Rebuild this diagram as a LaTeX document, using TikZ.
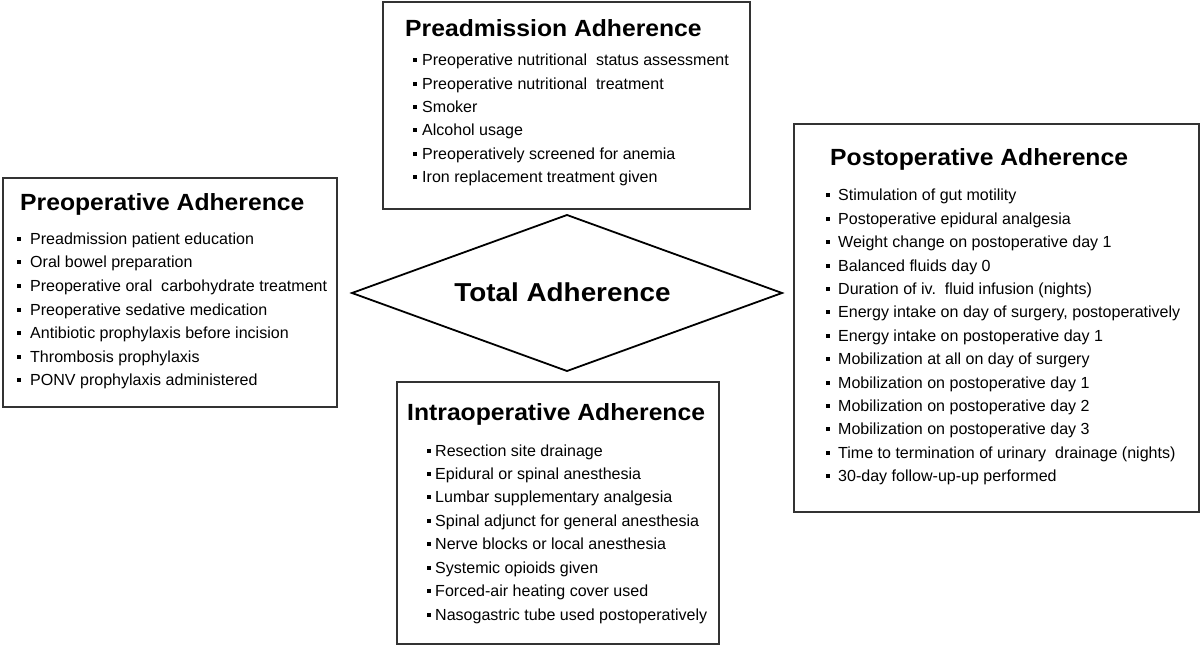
\documentclass[tikz,border=0pt]{standalone}
\usepackage{fontspec}
\setmainfont{Liberation Sans}
\tikzset{
  box/.style={draw=black!80, line width=1.6bp, anchor=north west, inner sep=0, fill=white},
  ttl/.style={anchor=base west, inner sep=0, xscale=1.055, font=\fontsize{23.5}{28}\selectfont\bfseries},
  itm/.style={anchor=base west, inner sep=0, font=\fontsize{16.1}{19}\selectfont},
  bul/.style={fill=black, draw=none, minimum size=4bp, inner sep=0, anchor=center},
  diam/.style={draw=black, line width=1.8bp, line join=miter},
  big/.style={inner sep=0, xscale=1.075, font=\fontsize{26}{31}\selectfont\bfseries}
}
\newcommand\itemlist[6]{%
  \foreach \t [count=\i from 0] in {#6} {
    \pgfmathsetmacro\yy{#4+\i*#5}
    \node[bul] (#1b\i) at (#2,\yy-5.5) {};
    \node[itm] (#1t\i) at (#3,\yy) {\t};
  }%
}
\begin{document}
\begin{tikzpicture}[x=1bp,y=-1bp]
\useasboundingbox[fill=white] (0,0) rectangle (1200,645);

% boxes
\node[box, minimum width=367bp, minimum height=207bp] (preadm) at (382,1) {};
\node[box, minimum width=334bp, minimum height=229bp] (preop) at (2,177) {};
\node[box, minimum width=322bp, minimum height=262bp] (intra) at (396,381) {};
\node[box, minimum width=405bp, minimum height=388bp] (postop) at (793,123) {};

% diamond
\coordinate (dl) at (352,293);
\coordinate (dt) at (567,215);
\coordinate (dr) at (782,293);
\coordinate (db) at (567,371);
\draw[diam] (dl) -- (dt) -- (dr) -- (db) -- cycle;
\node[big] (total) at (562.5,292.5) {Total Adherence};

% titles
\node[ttl] (preadmT) at (405,36.7) {Preadmission Adherence};
\node[ttl] (preopT) at (20,210.7) {Preoperative Adherence};
\node[ttl] (intraT) at (407,420.7) {Intraoperative Adherence};
\node[ttl] (postopT) at (830,165.7) {Postoperative Adherence};

% items
\itemlist{pa}{415}{422}{65.7}{23.33}{Preoperative nutritional\ \ status assessment, Preoperative nutritional\ \ treatment, Smoker, Alcohol usage, Preoperatively screened for anemia, Iron replacement treatment given}
\itemlist{pr}{19}{30}{244.3}{23.57}{Preadmission patient education, Oral bowel preparation, Preoperative oral\ \ carbohydrate treatment, Preoperative sedative medication, Antibiotic prophylaxis before incision, Thrombosis prophylaxis, PONV prophylaxis administered}
\itemlist{in}{429}{435}{456}{23.43}{Resection site drainage, Epidural or spinal anesthesia, Lumbar supplementary analgesia, Spinal adjunct for general anesthesia, Nerve blocks or local anesthesia, Systemic opioids given, Forced-air heating cover used, Nasogastric tube used postoperatively}
\itemlist{po}{827.5}{838}{201}{23.39}{Stimulation of gut motility, Postoperative epidural analgesia, Weight change on postoperative day 1, Balanced fluids day 0, Duration of iv.\ \ fluid infusion (nights), {Energy intake on day of surgery, postoperatively}, Energy intake on postoperative day 1, Mobilization at all on day of surgery, Mobilization on postoperative day 1, Mobilization on postoperative day 2, Mobilization on postoperative day 3, Time to termination of urinary\ \ drainage (nights), 30-day follow-up-up performed}
\end{tikzpicture}
\end{document}
